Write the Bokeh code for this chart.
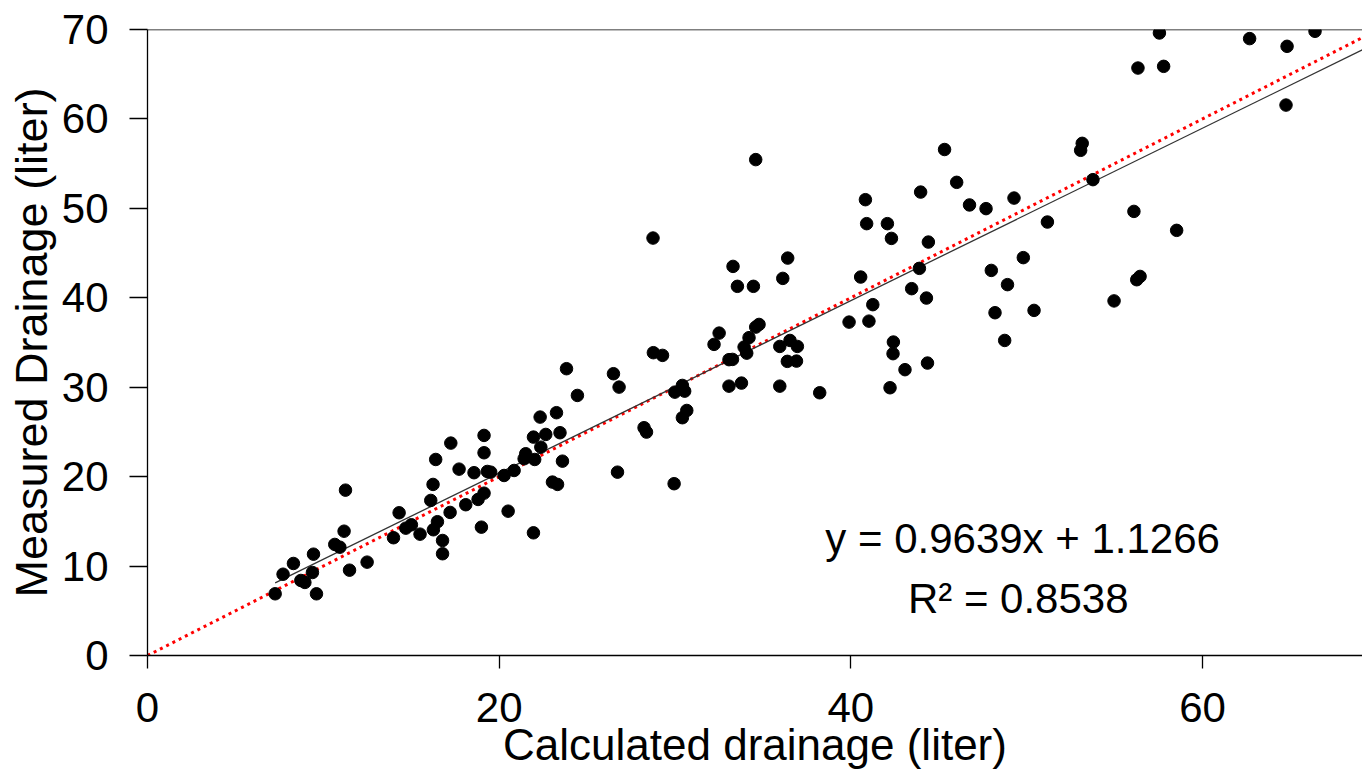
from bokeh.plotting import figure
from bokeh.models import Range1d, FixedTicker, Span, Label
from bokeh.embed import file_html
from bokeh.resources import INLINE

# ---- data ----
calculated = [
    7.26, 7.71, 8.30, 8.72, 8.95, 9.38, 9.44, 9.61, 11.26, 11.18,
    10.65, 10.94, 11.49, 12.49, 14.31, 13.99, 14.69, 15.01, 15.50, 16.24,
    16.39, 16.11, 16.49, 16.26, 16.78, 16.78, 17.21, 17.25, 17.72, 18.10,
    18.57, 18.80, 19.14, 19.14, 19.14, 19.33, 19.52, 20.28, 20.51, 20.85,
    21.51, 21.42, 21.95, 22.02, 22.33, 22.37, 22.65, 23.26, 23.46, 23.60,
    23.03, 23.32, 23.83, 24.45, 26.50, 26.82, 26.73, 28.24, 28.38, 28.77,
    29.29, 29.95, 29.99, 30.42, 30.55, 30.67, 30.42, 32.22, 32.51, 18.99,
    21.95, 34.59, 28.75, 33.30, 33.55, 34.46, 36.41, 36.13, 40.56, 40.83,
    40.90, 42.08, 42.31, 43.97, 44.41, 45.33, 46.02, 46.75, 43.90, 43.46,
    44.30, 41.25, 41.03, 39.90, 42.42, 42.40, 43.08, 44.36, 42.23, 38.23,
    35.96, 34.78, 34.59, 34.21, 33.93, 34.08, 33.27, 33.07, 33.07, 33.78,
    35.96, 36.54, 36.96, 36.39, 36.91, 47.69, 49.28, 51.18, 53.16, 53.07,
    53.77, 56.10, 58.53, 47.99, 48.91, 49.81, 48.20, 50.42, 48.75, 54.97,
    56.45, 56.26, 57.55, 62.68, 64.81, 66.40, 56.33, 57.79, 64.75,
]
measured = [
    6.90, 9.09, 10.29, 8.39, 8.17, 9.28, 11.33, 6.90, 18.49, 13.90,
    12.42, 12.11, 9.54, 10.44, 15.96, 13.17, 14.24, 14.62, 13.57, 19.13,
    21.92, 17.34, 14.96, 14.06, 12.86, 11.38, 16.00, 23.75, 20.84, 16.86,
    20.44, 17.45, 18.15, 22.67, 24.61, 20.58, 20.50, 20.13, 16.14, 20.69,
    22.56, 22.00, 24.42, 21.92, 26.66, 23.30, 24.72, 27.15, 24.91, 21.73,
    19.39, 19.13, 32.07, 29.08, 31.51, 30.01, 20.50, 25.47, 24.98, 33.86,
    33.56, 19.21, 29.45, 30.20, 29.56, 27.40, 26.59, 34.79, 36.05, 14.35,
    13.72, 55.45, 46.68, 43.51, 41.28, 41.28, 44.44, 42.17, 42.32, 50.97,
    48.29, 48.29, 46.64, 51.82, 46.23, 56.58, 52.91, 50.38, 43.29, 41.02,
    39.97, 39.23, 37.39, 37.28, 35.05, 33.75, 31.96, 32.70, 29.94, 29.38,
    30.12, 37.02, 36.72, 35.54, 34.49, 33.81, 33.11, 33.08, 30.12, 30.46,
    34.56, 35.23, 34.56, 32.89, 32.92, 49.97, 51.15, 48.47, 57.27, 56.49,
    53.21, 49.66, 47.54, 43.06, 41.47, 44.49, 38.33, 38.59, 35.23, 39.65,
    42.39, 42.02, 69.61, 68.98, 68.12, 69.80, 65.69, 65.88, 61.55,
]

slope = 0.9639
intercept = 1.1266
r_squared = 0.8538

one_to_one = [0, 70]
x_ticks = [0, 20, 40, 60]
y_ticks = [0, 10, 20, 30, 40, 50, 60, 70]

FONT = "Liberation Sans"

p = figure(
    width=1362, height=775,
    x_range=Range1d(0, 69.1), y_range=Range1d(0, 70),
    output_backend="svg", toolbar_location=None,
    min_border_left=147, min_border_right=0,
    min_border_top=29, min_border_bottom=120,
)
p.grid.visible = False
p.outline_line_color = None
p.background_fill_color = "white"
p.border_fill_color = "white"

# axes
for ax in (p.xaxis, p.yaxis):
    ax.axis_line_color = "black"
    ax.axis_line_width = 1.3
    ax.major_tick_line_color = "black"
    ax.major_tick_line_width = 1.3
    ax.major_tick_in = 0
    ax.minor_tick_line_color = None
    ax.major_label_text_font = FONT
    ax.major_label_text_font_size = "42px"
    ax.major_label_text_color = "black"
    ax.axis_label_text_font = FONT
    ax.axis_label_text_font_style = "normal"
    ax.axis_label_text_color = "black"

p.xaxis.ticker = FixedTicker(ticks=x_ticks)
p.yaxis.ticker = FixedTicker(ticks=y_ticks)
p.xaxis.major_tick_out = 13
p.yaxis.major_tick_out = 18
p.xaxis.major_label_standoff = 24
p.yaxis.major_label_standoff = 21
p.xaxis.axis_label = "Calculated drainage (liter)"
p.yaxis.axis_label = "Measured Drainage (liter)"
p.xaxis.axis_label_text_font_size = "44px"
p.yaxis.axis_label_text_font_size = "45px"
p.xaxis.axis_label_standoff = -5
p.yaxis.axis_label_standoff = 2

# top border line
p.add_layout(Span(location=70, dimension="width", line_color="black", line_width=1.3))

# 1:1 line (red dotted)
p.line(one_to_one, one_to_one, line_color="red", line_width=3, line_dash="3 4")

# regression line
fit_x = [min(calculated), 70]
fit_y = [slope * v + intercept for v in fit_x]
p.line(fit_x, fit_y, line_color="#333333", line_width=1.3)

# points
p.scatter(calculated, measured, size=12.5, fill_color="black", line_color="black")

# equation text
p.add_layout(Label(x=49.77, y=13.1, text=f"y = {slope}x + {intercept}",
                   text_font=FONT, text_font_size="42px", text_color="black",
                   text_align="center", text_baseline="middle"))
p.add_layout(Label(x=49.52, y=6.4, text=f"R² = {r_squared}",
                   text_font=FONT, text_font_size="42px", text_color="black",
                   text_align="center", text_baseline="middle"))

open("out.html", "w").write(file_html(p, INLINE))
